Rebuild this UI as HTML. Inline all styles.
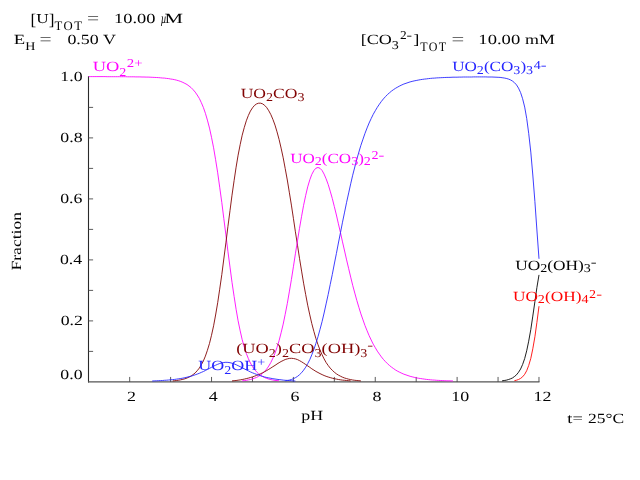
<!DOCTYPE html>
<html><head><meta charset="utf-8"><title>Fraction diagram</title>
<style>html,body{margin:0;padding:0;background:#fff}svg{display:block}text{font-family:"Liberation Serif","Times New Roman",serif;text-rendering:geometricPrecision}</style>
</head><body>
<svg width="640" height="480" viewBox="0 0 640 480" style="filter:blur(0.3px)">
<rect width="640" height="480" fill="#fff"/>
<path d="M88.50 76.30 V382.50" fill="none" stroke="#2a2a2a" stroke-width="1.1"/><path d="M88.00 381.95 H539.48" fill="none" stroke="#555" stroke-width="1.3"/><path d="M88.50 351.40 h4.6 M88.50 320.90 h4.6 M88.50 290.40 h4.6 M88.50 259.90 h4.6 M88.50 229.40 h4.6 M88.50 198.90 h4.6 M88.50 168.40 h4.6 M88.50 137.90 h4.6 M88.50 107.40 h4.6 M129.68 381.95 v-5 M170.61 381.95 v-5 M211.54 381.95 v-5 M252.47 381.95 v-5 M293.40 381.95 v-5 M334.33 381.95 v-5 M375.26 381.95 v-5 M416.19 381.95 v-5 M457.12 381.95 v-5 M498.05 381.95 v-5 M538.98 381.95 v-5 " fill="none" stroke="#4a4a4a" stroke-width="0.9"/>
<g fill="none" stroke-width="0.88">
<path d="M88.8 76.6 L90.8 76.6 L92.8 76.6 L94.9 76.6 L96.9 76.6 L99.0 76.6 L101.0 76.6 L103.1 76.6 L105.1 76.6 L107.2 76.7 L109.2 76.7 L111.3 76.7 L113.3 76.7 L115.4 76.7 L117.4 76.7 L119.4 76.7 L121.5 76.7 L123.5 76.7 L125.6 76.7 L127.6 76.8 L129.7 76.8 L131.7 76.8 L133.8 76.8 L135.8 76.9 L137.9 76.9 L139.9 76.9 L142.0 77.0 L144.0 77.0 L146.1 77.1 L148.1 77.1 L150.1 77.2 L152.2 77.3 L154.2 77.4 L156.3 77.5 L158.3 77.6 L160.4 77.8 L162.4 78.0 L164.5 78.1 L166.5 78.4 L168.6 78.6 L170.6 79.0 L172.7 79.3 L174.7 79.7 L176.7 80.2 L178.8 80.8 L180.8 81.5 L182.9 82.4 L184.9 83.4 L187.0 84.5 L189.0 86.0 L191.1 87.6 L193.1 89.7 L195.2 92.1 L197.2 95.0 L199.3 98.4 L201.3 102.6 L203.4 107.5 L205.4 113.3 L207.4 120.1 L209.5 128.1 L211.5 137.3 L213.6 147.8 L215.6 159.7 L217.7 172.8 L219.7 187.2 L221.8 202.5 L223.8 218.5 L225.9 234.9 L227.9 251.2 L230.0 267.1 L232.0 282.3 L234.1 296.4 L236.1 309.3 L238.1 320.8 L240.2 330.9 L242.2 339.7 L244.3 347.1 L246.3 353.4 L248.4 358.7 L250.4 363.0 L252.5 366.6 L254.5 369.5 L256.6 371.9 L258.6 373.8 L260.7 375.4 L262.7 376.6 L264.7 377.6 L266.8 378.4 L268.8 379.1 L270.9 379.6 L272.9 380.0 L275.0 380.4 L277.0 380.6 L279.1 380.8" stroke="#ff00ff"/>
<path d="M172.7 380.9 L174.7 380.7 L176.7 380.5 L178.8 380.2 L180.8 379.8 L182.9 379.3 L184.9 378.8 L187.0 378.0 L189.0 377.1 L191.1 376.0 L193.1 374.6 L195.2 372.9 L197.2 370.7 L199.3 368.1 L201.3 364.8 L203.4 360.9 L205.4 356.1 L207.4 350.3 L209.5 343.4 L211.5 335.3 L213.6 325.8 L215.6 315.0 L217.7 302.7 L219.7 289.2 L221.8 274.6 L223.8 259.0 L225.9 242.9 L227.9 226.7 L230.0 210.6 L232.0 195.2 L234.1 180.6 L236.1 167.2 L238.1 155.2 L240.2 144.5 L242.2 135.2 L244.3 127.4 L246.3 120.8 L248.4 115.4 L250.4 111.1 L252.5 107.8 L254.5 105.4 L256.6 103.9 L258.6 103.2 L260.7 103.2 L262.7 103.9 L264.7 105.4 L266.8 107.7 L268.8 110.8 L270.9 114.7 L272.9 119.4 L275.0 125.1 L277.0 131.8 L279.1 139.5 L281.1 148.1 L283.2 157.8 L285.2 168.5 L287.3 180.0 L289.3 192.2 L291.4 205.1 L293.4 218.3 L295.4 231.8 L297.5 245.2 L299.5 258.3 L301.6 271.1 L303.6 283.2 L305.7 294.6 L307.7 305.2 L309.8 314.9 L311.8 323.6 L313.9 331.5 L315.9 338.5 L318.0 344.7 L320.0 350.1 L322.1 354.8 L324.1 358.9 L326.1 362.5 L328.2 365.5 L330.2 368.1 L332.3 370.3 L334.3 372.2 L336.4 373.8 L338.4 375.1 L340.5 376.2 L342.5 377.2 L344.6 378.0 L346.6 378.6 L348.7 379.2 L350.7 379.6 L352.7 380.0 L354.8 380.3 L356.8 380.5 L358.9 380.7 L360.9 380.9" stroke="#800000"/>
<path d="M242.2 380.8 L244.3 380.6 L246.3 380.3 L248.4 379.9 L250.4 379.5 L252.5 378.9 L254.5 378.2 L256.6 377.4 L258.6 376.3 L260.7 375.0 L262.7 373.3 L264.7 371.3 L266.8 368.9 L268.8 366.0 L270.9 362.4 L272.9 358.2 L275.0 353.2 L277.0 347.4 L279.1 340.6 L281.1 332.8 L283.2 324.1 L285.2 314.3 L287.3 303.5 L289.3 291.9 L291.4 279.6 L293.4 266.8 L295.4 253.8 L297.5 240.8 L299.5 228.3 L301.6 216.3 L303.6 205.3 L305.7 195.4 L307.7 186.9 L309.8 179.8 L311.8 174.4 L313.9 170.5 L315.9 168.2 L318.0 167.5 L320.0 168.3 L322.1 170.5 L324.1 174.1 L326.1 178.8 L328.2 184.5 L330.2 191.1 L332.3 198.5 L334.3 206.5 L336.4 215.0 L338.4 223.8 L340.5 232.8 L342.5 241.9 L344.6 251.0 L346.6 259.9 L348.7 268.7 L350.7 277.1 L352.7 285.3 L354.8 293.1 L356.8 300.4 L358.9 307.4 L360.9 313.9 L363.0 319.9 L365.0 325.6 L367.1 330.8 L369.1 335.6 L371.2 340.0 L373.2 344.1 L375.3 347.7 L377.3 351.1 L379.4 354.1 L381.4 356.9 L383.4 359.4 L385.5 361.7 L387.5 363.7 L389.6 365.6 L391.6 367.2 L393.7 368.7 L395.7 370.1 L397.8 371.3 L399.8 372.3 L401.9 373.3 L403.9 374.2 L406.0 374.9 L408.0 375.6 L410.1 376.3 L412.1 376.8 L414.1 377.3 L416.2 377.8 L418.2 378.2 L420.3 378.5 L422.3 378.8 L424.4 379.1 L426.4 379.4 L428.5 379.6 L430.5 379.8 L432.6 380.0 L434.6 380.1 L436.7 380.3 L438.7 380.4 L440.7 380.5 L442.8 380.6 L444.8 380.7 L446.9 380.8 L448.9 380.8 L451.0 380.9 L453.0 381.0" stroke="#ff00ff"/>
<path d="M285.2 380.8 L287.3 380.5 L289.3 380.1 L291.4 379.5 L293.4 378.7 L295.4 377.7 L297.5 376.4 L299.5 374.7 L301.6 372.7 L303.6 370.2 L305.7 367.2 L307.7 363.7 L309.8 359.6 L311.8 354.8 L313.9 349.4 L315.9 343.4 L318.0 336.7 L320.0 329.4 L322.1 321.5 L324.1 313.0 L326.1 303.9 L328.2 294.4 L330.2 284.6 L332.3 274.4 L334.3 264.0 L336.4 253.5 L338.4 243.0 L340.5 232.5 L342.5 222.2 L344.6 212.1 L346.6 202.3 L348.7 192.9 L350.7 183.8 L352.7 175.2 L354.8 167.0 L356.8 159.3 L358.9 152.0 L360.9 145.3 L363.0 139.1 L365.0 133.3 L367.1 127.9 L369.1 123.0 L371.2 118.5 L373.2 114.4 L375.3 110.7 L377.3 107.3 L379.4 104.2 L381.4 101.4 L383.4 98.9 L385.5 96.6 L387.5 94.5 L389.6 92.7 L391.6 91.0 L393.7 89.5 L395.7 88.2 L397.8 87.0 L399.8 85.9 L401.9 84.9 L403.9 84.0 L406.0 83.3 L408.0 82.6 L410.1 81.9 L412.1 81.4 L414.1 80.9 L416.2 80.5 L418.2 80.1 L420.3 79.7 L422.3 79.4 L424.4 79.1 L426.4 78.9 L428.5 78.6 L430.5 78.4 L432.6 78.2 L434.6 78.1 L436.7 77.9 L438.7 77.8 L440.7 77.7 L442.8 77.6 L444.8 77.5 L446.9 77.4 L448.9 77.4 L451.0 77.3 L453.0 77.2 L455.1 77.2 L457.1 77.2 L459.2 77.1 L461.2 77.1 L463.3 77.0 L465.3 77.0 L467.4 77.0 L469.4 77.0 L471.4 77.0 L473.5 76.9 L475.5 76.9 L477.6 76.9 L479.6 76.9 L481.7 76.9 L483.7 76.9 L485.8 76.9 L487.8 77.0 L489.9 77.0 L491.9 77.0 L494.0 77.1 L496.0 77.2 L498.1 77.3 L500.1 77.4 L502.1 77.7 L504.2 78.0 L506.2 78.4 L508.3 79.0 L510.3 79.8 L512.4 81.0 L514.4 82.6 L516.5 84.9 L518.5 88.1 L520.6 92.6 L522.6 98.7 L524.7 107.1 L526.7 118.4 L528.7 133.3 L530.8 152.1 L532.8 175.0 L534.9 201.5 L536.9 230.0 L539.0 258.8" stroke="#2424ff"/>
<path d="M232.0 380.9 L234.1 380.7 L236.1 380.5 L238.1 380.2 L240.2 379.9 L242.2 379.5 L244.3 379.1 L246.3 378.6 L248.4 378.1 L250.4 377.5 L252.5 376.9 L254.5 376.2 L256.6 375.4 L258.6 374.6 L260.7 373.7 L262.7 372.7 L264.7 371.7 L266.8 370.5 L268.8 369.3 L270.9 368.0 L272.9 366.7 L275.0 365.4 L277.0 364.0 L279.1 362.7 L281.1 361.5 L283.2 360.5 L285.2 359.5 L287.3 358.9 L289.3 358.4 L291.4 358.3 L293.4 358.5 L295.4 358.9 L297.5 359.6 L299.5 360.6 L301.6 361.8 L303.6 363.1 L305.7 364.5 L307.7 365.9 L309.8 367.3 L311.8 368.8 L313.9 370.1 L315.9 371.4 L318.0 372.5 L320.0 373.6 L322.1 374.6 L324.1 375.5 L326.1 376.3 L328.2 377.0 L330.2 377.6 L332.3 378.2 L334.3 378.7 L336.4 379.1 L338.4 379.5 L340.5 379.8 L342.5 380.1 L344.6 380.3 L346.6 380.5 L348.7 380.7 L350.7 380.9" stroke="#800000"/>
<path d="M152.2 381.0 L154.2 380.9 L156.3 380.8 L158.3 380.7 L160.4 380.6 L162.4 380.5 L164.5 380.3 L166.5 380.2 L168.6 380.0 L170.6 379.8 L172.7 379.6 L174.7 379.4 L176.7 379.1 L178.8 378.8 L180.8 378.5 L182.9 378.1 L184.9 377.7 L187.0 377.2 L189.0 376.7 L191.1 376.2 L193.1 375.5 L195.2 374.8 L197.2 374.1 L199.3 373.3 L201.3 372.4 L203.4 371.5 L205.4 370.5 L207.4 369.4 L209.5 368.4 L211.5 367.3 L213.6 366.2 L215.6 365.2 L217.7 364.3 L219.7 363.5 L221.8 362.9 L223.8 362.5 L225.9 362.3 L227.9 362.4 L230.0 362.7 L232.0 363.2 L234.1 363.9 L236.1 364.7 L238.1 365.7 L240.2 366.7 L242.2 367.8 L244.3 368.8 L246.3 369.9 L248.4 370.9 L250.4 371.9 L252.5 372.8 L254.5 373.6 L256.6 374.4 L258.6 375.1 L260.7 375.8 L262.7 376.4 L264.7 377.0 L266.8 377.5 L268.8 377.9 L270.9 378.3 L272.9 378.7 L275.0 379.0 L277.0 379.3 L279.1 379.6 L281.1 379.8 L283.2 380.1 L285.2 380.3 L287.3 380.4 L289.3 380.6 L291.4 380.7 L293.4 380.9 L295.4 381.0" stroke="#2424ff"/>
<path d="M502.1 380.8 L504.2 380.5 L506.2 380.2 L508.3 379.6 L510.3 378.9 L512.4 378.0 L514.4 376.6 L516.5 374.8 L518.5 372.3 L520.6 369.0 L522.6 364.5 L524.7 358.5 L526.7 350.8 L528.7 341.2 L530.8 329.5 L532.8 316.1 L534.9 301.7 L536.9 287.5 L539.0 274.9" stroke="#000000"/>
<path d="M514.4 380.7 L516.5 380.2 L518.5 379.5 L520.6 378.4 L522.6 376.8 L524.7 374.3 L526.7 370.7 L528.7 365.5 L530.8 358.4 L532.8 348.8 L534.9 336.8 L536.9 322.4 L539.0 306.2" stroke="#ff0000"/>
</g>
<g id="labels" style="opacity:0.99">
<g class="lb" fill="#000"><text transform="translate(30.62 24.99) scale(1.264 1.197)" font-size="13.6">[</text><text transform="translate(36.35 23.10) scale(1.264 1)" font-size="13.6">U</text><text transform="translate(48.76 24.99) scale(1.264 1.197)" font-size="13.6">]</text><text transform="translate(54.48 29.50) scale(0.980 1)" font-size="13" letter-spacing="1.58">TOT</text></g>
<g class="lb" fill="#000"><text transform="translate(86.93 23.65) scale(1.535 1.27)" font-size="14" fill="#3a3a3a">=</text></g>
<g class="lb" fill="#000"><text transform="translate(113.98 22.50) scale(1.315 1)" font-size="14">10.00</text></g>
<g class="lb" fill="#000"><text transform="translate(160.67 22.50) scale(0.704 1)" font-size="14" font-style="italic">µ</text></g>
<g class="lb" fill="#000"><text transform="translate(164.60 22.50) scale(1.487 1)" font-size="14">M</text></g>
<g class="lb" fill="#000"><text transform="translate(13.86 43.70) scale(1.334 1)" font-size="14">E</text><text transform="translate(25.27 49.80) scale(1.170 1)" font-size="12">H</text></g>
<g class="lb" fill="#000"><text transform="translate(39.53 44.95) scale(1.535 1.27)" font-size="14" fill="#3a3a3a">=</text></g>
<g class="lb" fill="#000"><text transform="translate(67.42 43.70) scale(1.278 1)" font-size="14">0.50 V</text></g>
<g class="lb" fill="#000"><text transform="translate(360.66 44.30) scale(1.289 1)" font-size="14">[CO</text><text transform="translate(391.73 49.30) scale(1.170 1)" font-size="12">3</text></g>
<g class="lb" fill="#000"><text transform="translate(399.91 39.00) scale(1.112 1)" font-size="12">2</text><text transform="translate(406.59 39.00) scale(1.379 1)" font-size="12">-</text></g>
<g class="lb" fill="#000"><text transform="translate(413.23 44.30) scale(1.315 1)" font-size="14">]</text></g>
<g class="lb" fill="#000"><text transform="translate(420.18 50.60) scale(0.923 1)" font-size="13" letter-spacing="1.58">TOT</text></g>
<g class="lb" fill="#000"><text transform="translate(451.38 45.45) scale(1.612 1.27)" font-size="14" fill="#3a3a3a">=</text></g>
<g class="lb" fill="#000"><text transform="translate(478.37 44.30) scale(1.328 1)" font-size="14">10.00</text></g>
<g class="lb" fill="#000"><text transform="translate(525.12 44.30) scale(1.281 1)" font-size="14">mM</text></g>
<g class="lb" fill="#ff00ff"><text transform="translate(92.71 71.00) scale(1.318 1)" font-size="14">UO</text><text transform="translate(119.35 75.80) scale(1.170 1)" font-size="12">2</text></g>
<g class="lb" fill="#ff00ff"><text transform="translate(126.85 66.90) scale(1.236 1)" font-size="12">2+</text></g>
<g class="lb" fill="#800000"><text transform="translate(240.63 98.25) scale(1.257 1)" font-size="14">UO</text><text transform="translate(266.06 100.65) scale(1.170 1)" font-size="12">2</text><text transform="translate(273.08 98.25) scale(1.257 1)" font-size="14">CO</text><text transform="translate(297.53 100.65) scale(1.170 1)" font-size="12">3</text></g>
<g class="lb" fill="#ff00ff"><text transform="translate(290.14 162.50) scale(1.218 1)" font-size="14">UO</text><text transform="translate(314.77 164.50) scale(1.170 1)" font-size="12">2</text><text transform="translate(321.79 162.50) scale(1.218 1)" font-size="14">(CO</text><text transform="translate(351.15 164.50) scale(1.170 1)" font-size="12">3</text><text transform="translate(358.17 162.50) scale(1.218 1)" font-size="14">)</text><text transform="translate(363.84 164.50) scale(1.170 1)" font-size="12">2</text><text transform="translate(371.56 158.80) scale(1.170 1)" font-size="12">2</text><text transform="translate(378.58 158.80) scale(1.450 1)" font-size="12">-</text></g>
<g class="lb" fill="#2424ff"><text transform="translate(452.14 70.75) scale(1.223 1)" font-size="14">UO</text><text transform="translate(476.87 73.95) scale(1.170 1)" font-size="12">2</text><text transform="translate(483.89 70.75) scale(1.223 1)" font-size="14">(CO</text><text transform="translate(513.37 73.95) scale(1.170 1)" font-size="12">3</text><text transform="translate(520.39 70.75) scale(1.223 1)" font-size="14">)</text><text transform="translate(526.09 73.95) scale(1.170 1)" font-size="12">3</text><text transform="translate(533.81 68.65) scale(1.170 1)" font-size="12">4</text><text transform="translate(540.83 68.65) scale(1.450 1)" font-size="12">-</text></g>
<g class="lb" fill="#000000"><text transform="translate(515.14 269.60) scale(1.239 1)" font-size="14">UO</text><text transform="translate(540.19 271.60) scale(1.170 1)" font-size="12">2</text><text transform="translate(547.21 269.60) scale(1.239 1)" font-size="14">(OH)</text><text transform="translate(583.81 271.60) scale(1.170 1)" font-size="12">3</text><text transform="translate(590.83 266.30) scale(1.450 1)" font-size="12">-</text></g>
<g class="lb" fill="#ff0000"><text transform="translate(512.89 300.60) scale(1.236 1)" font-size="14">UO</text><text transform="translate(537.87 303.20) scale(1.170 1)" font-size="12">2</text><text transform="translate(544.89 300.60) scale(1.236 1)" font-size="14">(OH)</text><text transform="translate(581.39 303.20) scale(1.170 1)" font-size="12">4</text><text transform="translate(589.11 297.90) scale(1.170 1)" font-size="12">2</text><text transform="translate(596.13 297.90) scale(1.450 1)" font-size="12">-</text></g>
<g class="lb" fill="#800000"><text transform="translate(236.19 352.90) scale(1.312 1)" font-size="14">(UO</text><text transform="translate(268.85 356.50) scale(1.170 1)" font-size="12">2</text><text transform="translate(275.87 352.90) scale(1.312 1)" font-size="14">)</text><text transform="translate(281.98 356.50) scale(1.170 1)" font-size="12">2</text><text transform="translate(289.00 352.90) scale(1.312 1)" font-size="14">CO</text><text transform="translate(314.52 356.50) scale(1.170 1)" font-size="12">3</text><text transform="translate(321.54 352.90) scale(1.312 1)" font-size="14">(OH)</text><text transform="translate(360.31 356.50) scale(1.170 1)" font-size="12">3</text><text transform="translate(367.33 348.70) scale(1.450 1)" font-size="12">-</text></g>
<g class="lb" fill="#2424ff"><text transform="translate(198.37 369.90) scale(1.283 1)" font-size="14">UO</text><text transform="translate(224.31 374.00) scale(1.170 1)" font-size="12">2</text><text transform="translate(231.33 369.90) scale(1.283 1)" font-size="14">OH</text><text transform="translate(257.27 366.15) scale(1.170 1)" font-size="12">+</text></g>
<g class="lb" fill="#000"><text transform="translate(60.35 379.20) scale(1.270 1)" font-size="14">0.0</text></g>
<g class="lb" fill="#000"><text transform="translate(60.66 324.70) scale(1.270 1)" font-size="14">0.2</text></g>
<g class="lb" fill="#000"><text transform="translate(59.95 263.70) scale(1.270 1)" font-size="14">0.4</text></g>
<g class="lb" fill="#000"><text transform="translate(60.20 202.70) scale(1.270 1)" font-size="14">0.6</text></g>
<g class="lb" fill="#000"><text transform="translate(60.35 141.70) scale(1.270 1)" font-size="14">0.8</text></g>
<g class="lb" fill="#000"><text transform="translate(60.35 80.70) scale(1.270 1)" font-size="14">1.0</text></g>
<g class="lb" fill="#000"><text transform="translate(127.00 401.20) scale(1.280 1)" font-size="14">2</text></g>
<g class="lb" fill="#000"><text transform="translate(208.72 401.20) scale(1.280 1)" font-size="14">4</text></g>
<g class="lb" fill="#000"><text transform="translate(290.50 401.20) scale(1.280 1)" font-size="14">6</text></g>
<g class="lb" fill="#000"><text transform="translate(372.48 401.20) scale(1.280 1)" font-size="14">8</text></g>
<g class="lb" fill="#000"><text transform="translate(451.19 401.20) scale(1.280 1)" font-size="14">10</text></g>
<g class="lb" fill="#000"><text transform="translate(533.55 401.20) scale(1.280 1)" font-size="14">12</text></g>
<g class="lb" fill="#000"><text transform="translate(301.21 419.75) scale(1.275 1)" font-size="14">pH</text></g>
<g class="lb" fill="#000"><text transform="translate(567.32 422.70) scale(1.313 1)" font-size="14">t=</text></g>
<g class="lb" fill="#000"><text transform="translate(587.98 422.70) scale(1.247 1)" font-size="14">25°C</text></g>
<text transform="translate(21.0 270.51) rotate(-90) scale(1.255 1)" font-size="14">Fraction</text>
</g>
</svg>
</body></html>
